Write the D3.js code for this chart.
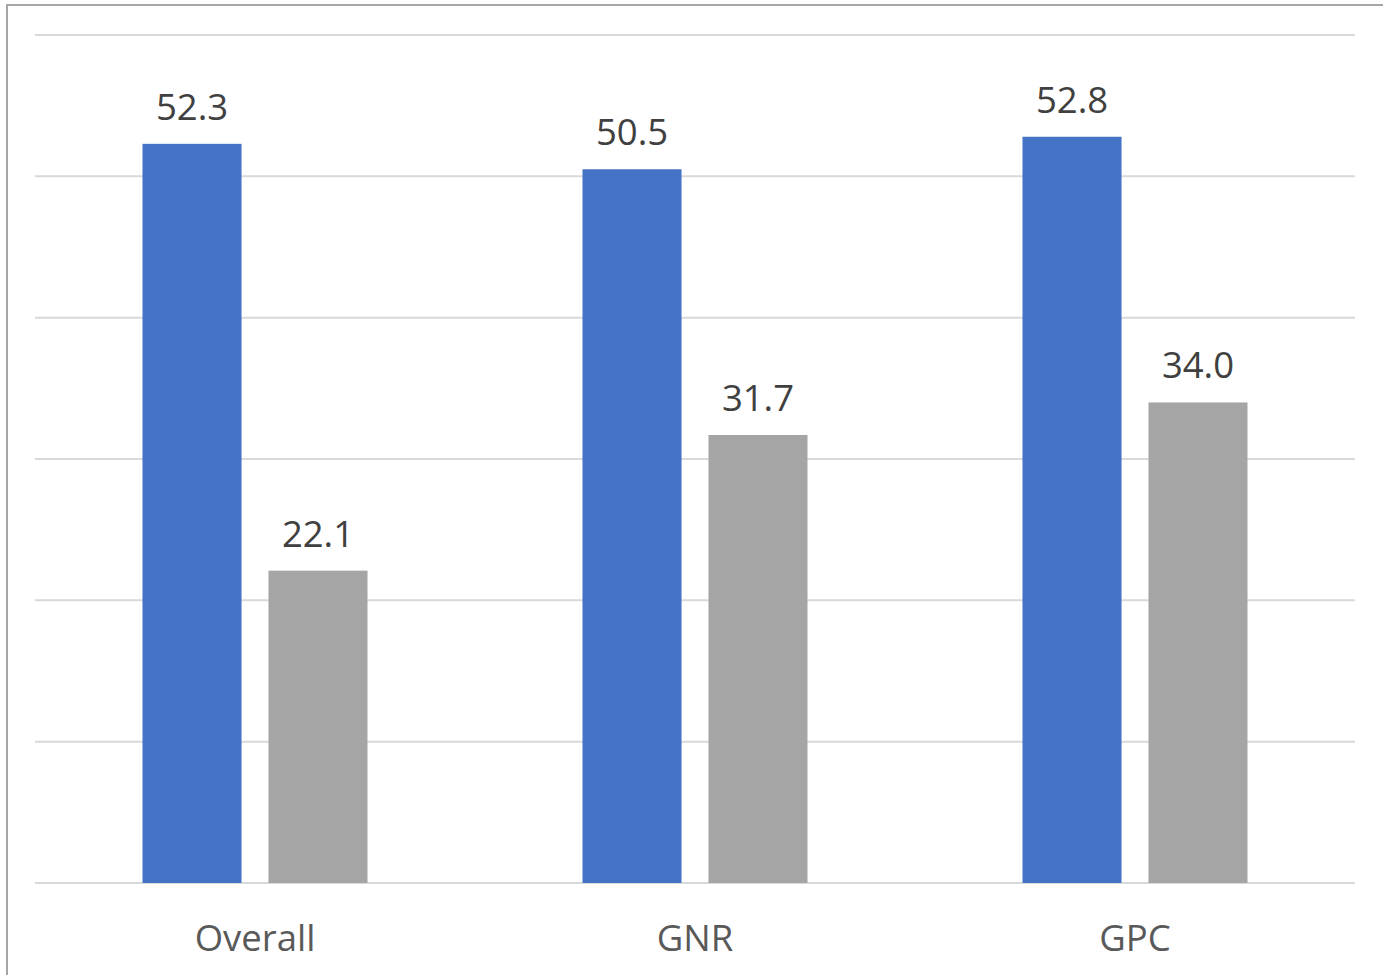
<!DOCTYPE html>
<html>
<head>
<meta charset="utf-8">
<script src="https://cdn.jsdelivr.net/npm/d3@7"></script>
<style>
  html, body { margin: 0; padding: 0; background: #fff; }
  svg { display: block; }
</style>
</head>
<body>
<svg id="chart" width="1383" height="975"></svg>
<script>
// Category names, series and values
const categories = ["Overall", "GNR", "GPC"];
const seriesNames = ["A", "B"];
const seriesA = [52.3, 50.5, 52.8];
const seriesB = [22.1, 31.7, 34.0];
const yTicks = [0, 10, 20, 30, 40, 50, 60];

const colors = { A: "#4472C4", B: "#A5A5A5" };

const svg = d3.select("#chart");
const W = 1383, H = 975;
const plot = { left: 35, right: 1355, top: 35, bottom: 883 };

// outer frame of the chart area
svg.append("rect")
  .attr("x", 7).attr("y", 5)
  .attr("width", W + 20).attr("height", H + 20)
  .attr("fill", "none")
  .attr("stroke", "#a6a6a6")
  .attr("stroke-width", 2);

const y = d3.scaleLinear().domain([0, 60]).range([plot.bottom, plot.top]);

const x0 = d3.scaleBand()
  .domain(categories)
  .range([plot.left, plot.right])
  .paddingInner(0.4886)
  .paddingOuter(0.2443);

const x1 = d3.scaleBand()
  .domain(seriesNames)
  .range([0, x0.bandwidth()])
  .paddingInner(0.214)
  .paddingOuter(0);

// horizontal gridlines
svg.append("g")
  .selectAll("line")
  .data(yTicks)
  .join("line")
  .attr("x1", plot.left).attr("x2", plot.right)
  .attr("y1", d => y(d)).attr("y2", d => y(d))
  .attr("stroke", "#d9d9d9")
  .attr("stroke-width", 2);

const rows = categories.map((c, i) => ({ cat: c, values: [
  { key: "A", v: seriesA[i] },
  { key: "B", v: seriesB[i] }
]}));

const groups = svg.append("g")
  .selectAll("g")
  .data(rows)
  .join("g")
  .attr("transform", d => `translate(${x0(d.cat)},0)`);

groups.selectAll("rect")
  .data(d => d.values)
  .join("rect")
  .attr("x", d => x1(d.key))
  .attr("width", x1.bandwidth())
  .attr("y", d => y(d.v))
  .attr("height", d => y(0) - y(d.v))
  .attr("fill", d => colors[d.key]);

groups.selectAll("text")
  .data(d => d.values)
  .join("text")
  .attr("x", d => x1(d.key) + x1.bandwidth() / 2)
  .attr("y", d => y(d.v) - 24)
  .attr("text-anchor", "middle")
  .attr("font-family", "'Open Sans', 'Noto Sans', sans-serif")
  .attr("font-size", 36.5)
  .attr("fill", "#404040")
  .text(d => d.v.toFixed(1));

// category axis labels
svg.append("g")
  .selectAll("text")
  .data(categories)
  .join("text")
  .attr("x", d => x0(d) + x0.bandwidth() / 2)
  .attr("y", 951)
  .attr("text-anchor", "middle")
  .attr("font-family", "'Open Sans', 'Noto Sans', sans-serif")
  .attr("font-size", 36.5)
  .attr("fill", "#595959")
  .text(d => d);
</script>
</body>
</html>
